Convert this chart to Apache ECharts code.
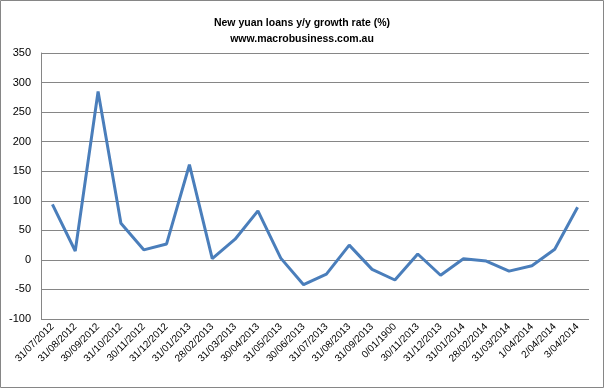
<!DOCTYPE html>
<html><head><meta charset="utf-8">
<script src="https://cdn.jsdelivr.net/npm/echarts@6/dist/echarts.min.js"></script>
<style>html,body{margin:0;padding:0;background:#fff}#c{width:604px;height:388px}</style>
</head><body><div id="c"></div>
<script>
var categories = ["31/07/2012","31/08/2012","30/09/2012","31/10/2012","30/11/2012","31/12/2012","31/01/2013","28/02/2013","31/03/2013","30/04/2013","31/05/2013","30/06/2013","31/07/2013","31/08/2013","31/09/2013","0/01/1900","30/11/2013","31/12/2013","31/01/2014","28/02/2014","31/03/2014","1/04/2014","2/04/2014","3/04/2014"];
var growth = [94,15,285,62,17,27,161,2,35,83,3,-42,-24,25,-16,-34,10,-26,2,-2,-19,-10,18,89];
var titleLines = ["New yuan loans y/y growth rate (%)","www.macrobusiness.com.au"];

var chart = echarts.init(document.getElementById('c'), null, {renderer:'canvas'});
var font = '"Liberation Sans", "DejaVu Sans", sans-serif';
chart.setOption({
  animation:false,
  backgroundColor:'#fff',
  title:{text:titleLines.join('\n'),left:'center',top:10,textStyle:{fontFamily:font,fontSize:10.5,fontWeight:'bold',color:'#000',lineHeight:16}},
  graphic:[{type:'rect',shape:{x:0.5,y:0.5,width:603,height:387},style:{fill:null,stroke:'#868686',lineWidth:1},silent:true}],
  grid:{left:41,right:15,top:53,bottom:69},
  xAxis:{type:'category',data:categories,boundaryGap:true,
    axisLine:{show:false},axisTick:{show:false},
    axisLabel:{rotate:45,interval:0,fontFamily:font,fontSize:10,color:'#000',margin:6}},
  yAxis:{type:'value',min:-100,max:350,interval:50,
    axisLine:{show:true,lineStyle:{color:'#868686',width:1}},axisTick:{show:false},
    axisLabel:{fontFamily:font,fontSize:11,color:'#000',margin:10},
    splitLine:{lineStyle:{color:'#868686',width:1}}},
  series:[{type:'line',data:growth,symbol:'none',lineStyle:{color:'#4a7ebb',width:3}}]
});
</script></body></html>
